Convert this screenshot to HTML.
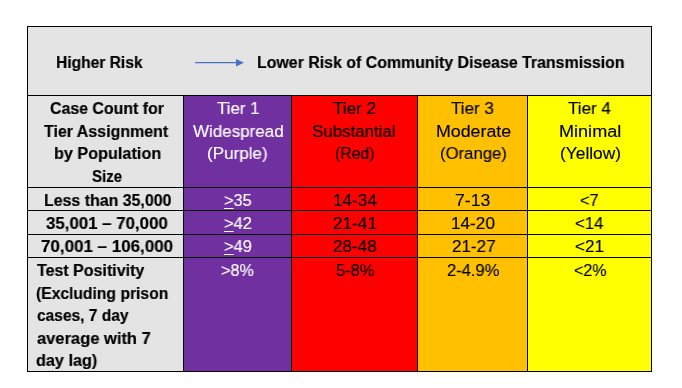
<!DOCTYPE html>
<html><head><meta charset="utf-8"><style>
html,body{margin:0;padding:0;background:#fff}
body{width:682px;height:388px;position:relative;overflow:hidden;font-family:"Liberation Sans",sans-serif;font-size:17.2px;line-height:20px}
body>div{position:absolute}
.r,.b{white-space:pre;transform-origin:0 0;will-change:transform}
.b{font-weight:bold;-webkit-text-stroke:0.2px currentColor}
.r{-webkit-text-stroke:0.15px currentColor}
.u{text-decoration:underline;text-decoration-thickness:1px;text-underline-offset:2px}
</style></head><body>
<div style="left:27px;top:26px;width:625px;height:346px;background:#e4e4e4"></div>
<div style="left:183px;top:95px;width:108px;height:276px;background:#7030a0"></div>
<div style="left:291px;top:95px;width:126px;height:276px;background:#ff0000"></div>
<div style="left:417px;top:95px;width:110px;height:276px;background:#ffc000"></div>
<div style="left:527px;top:95px;width:124px;height:276px;background:#ffff00"></div>
<div style="left:27px;top:26px;width:625px;height:1px;background:#000"></div>
<div style="left:27px;top:95px;width:625px;height:1px;background:#000"></div>
<div style="left:27px;top:187px;width:625px;height:1px;background:#000"></div>
<div style="left:27px;top:210px;width:625px;height:1px;background:#000"></div>
<div style="left:27px;top:234px;width:625px;height:1px;background:#000"></div>
<div style="left:27px;top:257px;width:625px;height:1px;background:#000"></div>
<div style="left:27px;top:371px;width:625px;height:1px;background:#000"></div>
<div style="left:27px;top:26px;width:1px;height:346px;background:#000"></div>
<div style="left:651px;top:26px;width:1px;height:346px;background:#000"></div>
<div style="left:183px;top:95px;width:1px;height:277px;background:#000"></div>
<div style="left:291px;top:95px;width:1px;height:277px;background:#000"></div>
<div style="left:417px;top:95px;width:1px;height:277px;background:#000"></div>
<div style="left:527px;top:95px;width:1px;height:277px;background:#000"></div>
<svg style="position:absolute;left:0;top:0" width="682" height="388"><line x1="195" y1="62.6" x2="237" y2="62.6" stroke="#4472c4" stroke-width="1.4"/><polygon points="236,58.9 236,66.6 244,62.7" fill="#4472c4"/></svg>
<div class="b" style="left:56.17px;top:52px;color:#000;transform:scaleX(0.9061)">Higher Risk</div>
<div class="b" style="left:256.64px;top:52px;color:#000;transform:scaleX(0.9251)">Lower Risk of Community Disease Transmission</div>
<div class="b" style="left:49.51px;top:98px;color:#000;transform:scaleX(0.9252)">Case Count for</div>
<div class="b" style="left:43.87px;top:121px;color:#000;transform:scaleX(0.9283)">Tier Assignment</div>
<div class="b" style="left:53.72px;top:143px;color:#000;transform:scaleX(0.9429)">by Population</div>
<div class="b" style="left:91.76px;top:166px;color:#000;transform:scaleX(0.8752)">Size</div>
<div class="r" style="left:216.81px;top:98px;color:#fff;transform:scaleX(0.9810)">Tier 1</div>
<div class="r" style="left:192.85px;top:121px;color:#fff;transform:scaleX(0.9884)">Widespread</div>
<div class="r" style="left:207.11px;top:143px;color:#fff;transform:scaleX(0.9915)">(Purple)</div>
<div class="r" style="left:332.80px;top:98px;color:#000;transform:scaleX(0.9952)">Tier 2</div>
<div class="r" style="left:312.16px;top:121px;color:#000;transform:scaleX(0.9826)">Substantial</div>
<div class="r" style="left:334.88px;top:143px;color:#000;transform:scaleX(0.9171)">(Red)</div>
<div class="r" style="left:450.81px;top:98px;color:#000;transform:scaleX(0.9881)">Tier 3</div>
<div class="r" style="left:435.65px;top:121px;color:#000;transform:scaleX(1.0349)">Moderate</div>
<div class="r" style="left:439.63px;top:143px;color:#000;transform:scaleX(0.9723)">(Orange)</div>
<div class="r" style="left:567.61px;top:98px;color:#000;transform:scaleX(0.9893)">Tier 4</div>
<div class="r" style="left:558.52px;top:121px;color:#000;transform:scaleX(1.0513)">Minimal</div>
<div class="r" style="left:559.79px;top:143px;color:#000;transform:scaleX(1.0085)">(Yellow)</div>
<div class="b" style="left:43.64px;top:190px;color:#000;transform:scaleX(0.9262)">Less than 35,000</div>
<div class="b" style="left:45.51px;top:213px;color:#000;transform:scaleX(0.9797)">35,001 – 70,000</div>
<div class="b" style="left:41.26px;top:236px;color:#000;transform:scaleX(0.9868)">70,001 – 106,000</div>
<div class="r" style="left:224.29px;top:190px;color:#fff;transform:scaleX(0.9514)"><span class="u">&gt;</span>35</div>
<div class="r" style="left:224.28px;top:213px;color:#fff;transform:scaleX(0.9600)"><span class="u">&gt;</span>42</div>
<div class="r" style="left:224.28px;top:236px;color:#fff;transform:scaleX(0.9600)"><span class="u">&gt;</span>49</div>
<div class="r" style="left:332.55px;top:190px;color:#000;transform:scaleX(0.9988)">14-34</div>
<div class="r" style="left:333.05px;top:213px;color:#000;transform:scaleX(0.9988)">21-41</div>
<div class="r" style="left:333.06px;top:236px;color:#000;transform:scaleX(0.9929)">28-48</div>
<div class="r" style="left:455.08px;top:190px;color:#000;transform:scaleX(1.0246)">7-13</div>
<div class="r" style="left:451.05px;top:213px;color:#000;transform:scaleX(0.9976)">14-20</div>
<div class="r" style="left:451.56px;top:236px;color:#000;transform:scaleX(0.9917)">21-27</div>
<div class="r" style="left:579.59px;top:190px;color:#000;transform:scaleX(0.9500)">&lt;7</div>
<div class="r" style="left:575.07px;top:213px;color:#000;transform:scaleX(0.9786)">&lt;14</div>
<div class="r" style="left:575.05px;top:236px;color:#000;transform:scaleX(0.9964)">&lt;21</div>
<div class="b" style="left:36.97px;top:260px;color:#000;transform:scaleX(0.9307)">Test Positivity</div>
<div class="b" style="left:35.72px;top:283px;color:#000;transform:scaleX(0.9110)">(Excluding prison</div>
<div class="b" style="left:37.12px;top:305px;color:#000;transform:scaleX(0.9035)">cases, 7 day</div>
<div class="b" style="left:36.52px;top:328px;color:#000;transform:scaleX(0.9603)">average with 7</div>
<div class="b" style="left:36.29px;top:350px;color:#000;transform:scaleX(0.9423)">day lag)</div>
<div class="r" style="left:221.29px;top:260px;color:#fff;transform:scaleX(0.9463)">&gt;8%</div>
<div class="r" style="left:335.68px;top:260px;color:#000;transform:scaleX(0.9600)">5-8%</div>
<div class="r" style="left:446.68px;top:260px;color:#000;transform:scaleX(0.9623)">2-4.9%</div>
<div class="r" style="left:573.50px;top:260px;color:#000;transform:scaleX(0.9343)">&lt;2%</div>
</body></html>
